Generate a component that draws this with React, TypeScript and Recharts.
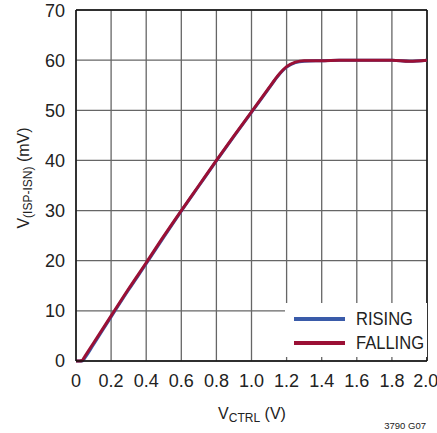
import { LineChart, Line, XAxis, YAxis, CartesianGrid, Legend, ReferenceLine } from "recharts";

const vctrl = [0, 0.02, 0.035, 0.05, 0.1, 0.2, 0.3, 0.4, 0.5, 0.6, 0.7, 0.8, 0.9, 1.0, 1.1, 1.15, 1.2, 1.25, 1.3, 1.4, 1.5, 1.6, 1.7, 1.8, 1.9, 2.0];
const rising = [0, 0, 0, 0.6, 3.3, 8.8, 14.2, 19.4, 24.7, 29.9, 34.9, 39.9, 44.8, 49.6, 54.4, 56.8, 58.6, 59.5, 59.8, 59.9, 60, 60, 60, 60, 59.8, 60];
const falling = [0, 0, 0.1, 0.9, 3.6, 9.0, 14.4, 19.6, 24.9, 30.0, 35.0, 40.0, 44.9, 49.7, 54.5, 56.9, 58.7, 59.6, 59.9, 59.9, 60, 60, 60, 60, 59.8, 60];
const xTicks = [0, 0.2, 0.4, 0.6, 0.8, 1.0, 1.2, 1.4, 1.6, 1.8, 2.0];
const yTicks = [0, 10, 20, 30, 40, 50, 60, 70];

const data = vctrl.map((v, i) => ({ v, rising: rising[i], falling: falling[i] }));

const font = "'Liberation Sans Narrow', 'Arial Narrow', 'Liberation Sans', Arial, sans-serif";

const textStyle = { display: "inline-block", transform: "scaleX(0.87)", transformOrigin: "left center" };

function LegendBox() {
  return (
    <div style={{ background: "#fff", width: 142, height: 54, fontFamily: font, fontSize: 19, color: "#222", whiteSpace: "nowrap" }}>
      <div style={{ display: "flex", alignItems: "center", height: 24, paddingTop: 4 }}>
        <div style={{ width: 51, height: 4, background: "#3a5ba9", marginLeft: 9, marginRight: 11, flex: "none" }} />
        <span style={textStyle}>RISING</span>
      </div>
      <div style={{ display: "flex", alignItems: "center", height: 24 }}>
        <div style={{ width: 51, height: 4, background: "#9b1035", marginLeft: 9, marginRight: 11, flex: "none" }} />
        <span style={textStyle}>FALLING</span>
      </div>
    </div>
  );
}

export default function App() {
  return (
    <div style={{ position: "absolute", left: 0, top: 0, width: 437, height: 433, background: "#fff" }}>
      <style>{"body{margin:0}"}</style>
      <LineChart width={437} height={433} data={data} margin={{ top: 10, right: 10, left: 0, bottom: 0 }}>
        <CartesianGrid stroke="#666" strokeWidth={1.3} />
        <XAxis
          dataKey="v"
          type="number"
          domain={[0, 2]}
          ticks={xTicks}
          height={72}
          tickLine={false}
          axisLine={{ stroke: "#111", strokeWidth: 1.5 }}
          tickMargin={7}
          tick={{ fill: "#222", fontSize: 18, fontFamily: font }}
          tickFormatter={(t: number) => (t === 0 ? "0" : t.toFixed(1))}
          label={{
            content: () => (
              <g>
                <text x={252} y={419} textAnchor="middle" fill="#222" fontFamily={font} fontSize={16}>
                  V<tspan fontSize={12} dy={3}>CTRL</tspan>
                  <tspan dy={-3}> (V)</tspan>
                </text>
                <text x={426} y={429} textAnchor="end" fill="#222" fontFamily={font} fontSize={9.5}>
                  3790 G07
                </text>
              </g>
            ),
          }}
        />
        <YAxis
          type="number"
          domain={[0, 70]}
          ticks={yTicks}
          width={76}
          tickLine={false}
          axisLine={{ stroke: "#111", strokeWidth: 1.5 }}
          tickMargin={5}
          tick={{ fill: "#222", fontSize: 18, fontFamily: font }}
          label={{
            content: () => (
              <text
                x={29}
                y={178}
                transform="rotate(-90 29 178)"
                textAnchor="middle"
                fill="#222"
                fontFamily={font}
                fontSize={16}
              >
                V<tspan fontSize={12} dy={3}>(ISP-ISN)</tspan>
                <tspan dy={-3}> (mV)</tspan>
              </text>
            ),
          }}
        />
        <ReferenceLine y={70} stroke="#111" strokeWidth={1.5} />
        <ReferenceLine x={2} stroke="#111" strokeWidth={1.5} />
        <Line dataKey="rising" type="monotone" stroke="#3a5ba9" strokeWidth={3} dot={false} isAnimationActive={false} />
        <Line dataKey="falling" type="monotone" stroke="#9b1035" strokeWidth={3} dot={false} isAnimationActive={false} />
        <Legend
          layout="horizontal"
          verticalAlign="middle"
          align="center"
          content={() => <LegendBox />}
          wrapperStyle={{ position: "absolute", left: 285, top: 303, width: 142, height: 54 }}
        />
      </LineChart>
    </div>
  );
}
